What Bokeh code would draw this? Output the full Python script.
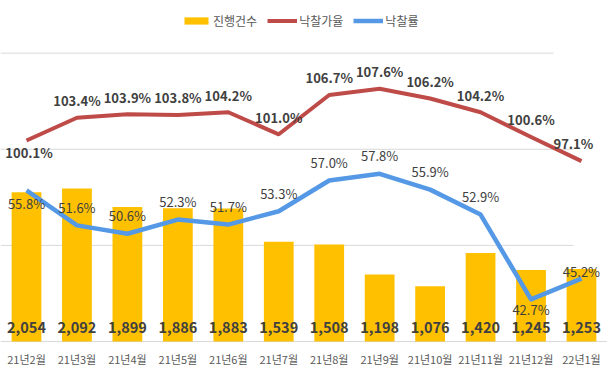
from bokeh.plotting import figure
from bokeh.models import Range1d, Legend, LegendItem
from bokeh.embed import file_html
from bokeh.resources import INLINE
from bokeh.core.properties import value

# ---- data ----
months = ["21년2월", "21년3월", "21년4월", "21년5월", "21년6월", "21년7월",
          "21년8월", "21년9월", "21년10월", "21년11월", "21년12월", "22년1월"]
counts = [2054, 2092, 1899, 1886, 1883, 1539, 1508, 1198, 1076, 1420, 1245, 1253]
price_ratio = [100.1, 103.4, 103.9, 103.8, 104.2, 101.0, 106.7, 107.6, 106.2, 104.2, 100.6, 97.1]
sale_rate = [55.8, 51.6, 50.6, 52.3, 51.7, 53.3, 57.0, 57.8, 55.9, 52.9, 42.7, 45.2]
count_axis_min = 500
grid_vals = [500, 1500, 2500, 3500]

# ---- layout ----
W, H = 607, 367
FONT = "Noto Sans CJK KR"
BAR_C = "#FFC000"
RED_C = "#BE4B48"
BLUE_C = "#5599E6"
TXT_C = "#404040"

x = list(range(len(months)))
xr = Range1d(-0.5154, 11.516)
yr = Range1d(229.4, 4048)
red_r = Range1d(67.15, 120.42)
blue_r = Range1d(34.52, 78.63)


def px(n, rng):
    return n * (rng.end - rng.start) / H


p = figure(width=W, height=H, x_range=xr, y_range=yr, output_backend="svg",
           toolbar_location=None, min_border=0, x_axis_location=None,
           y_axis_location=None)
p.outline_line_color = None
p.grid.visible = False
p.background_fill_color = "white"
p.extra_y_ranges = {"red": red_r, "blue": blue_r}

# gridlines
grid_ends = [xr.end, 10.84, 10.84, 10.446]
p.segment(x0=[xr.start] * len(grid_vals), x1=grid_ends, y0=grid_vals, y1=grid_vals,
          line_color="#D9D9D9", line_width=1)

bars = p.vbar(x=x, top=counts, bottom=count_axis_min, width=0.59,
              fill_color=BAR_C, line_color=None)
red = p.line(x, price_ratio, y_range_name="red", line_color=RED_C, line_width=4,
             line_join="round")
blue = p.line(x, sale_rate, y_range_name="blue", line_color=BLUE_C, line_width=4.5,
              line_join="round")

# bar value labels
p.text(x=x, y=[649] * len(x), text=[f"{c:,}" for c in counts],
       text_font=value(FONT), text_font_size="14.5px", text_font_style="bold",
       text_color=TXT_C, text_align="center", text_baseline="middle")

# category labels
p.text(x=x, y=[323] * len(x), text=months, text_font=value(FONT),
       text_font_size="11px", text_color="#595959", text_align="center",
       text_baseline="middle")

# red labels
red_off = [-12.0] + [17.2] * 11
red_dx = [0.05] + [0] * 10 + [-0.16]
p.text(x=[xi + d for xi, d in zip(x, red_dx)],
       y=[v + px(o, red_r) for v, o in zip(price_ratio, red_off)],
       y_range_name="red", text=[f"{v:.1f}%" for v in price_ratio],
       text_font=value(FONT), text_font_size="13px", text_font_style="bold",
       text_color=TXT_C, text_align="center", text_baseline="middle")

# blue labels
blue_off = [-13.4] + [18.0] * 9 + [-10.3, 6.7]
p.text(x=x, y=[v + px(o, blue_r) for v, o in zip(sale_rate, blue_off)],
       y_range_name="blue", text=[f"{v:.1f}%" for v in sale_rate],
       text_font=value(FONT), text_font_size="13px",
       text_color=TXT_C, text_align="center", text_baseline="middle")

legend = Legend(items=[LegendItem(label="진행건수", renderers=[bars]),
                       LegendItem(label="낙찰가율", renderers=[red]),
                       LegendItem(label="낙찰률", renderers=[blue])],
                orientation="horizontal", location=(181, 338.5),
                glyph_width=30, glyph_height=9, label_height=16,
                label_standoff=2, spacing=10, padding=0, margin=0,
                border_line_color=None, background_fill_alpha=0,
                label_text_font=FONT, label_text_font_size="12px",
                label_text_color="#595959")
p.add_layout(legend, "center")

open("out.html", "w").write(file_html(p, INLINE))
